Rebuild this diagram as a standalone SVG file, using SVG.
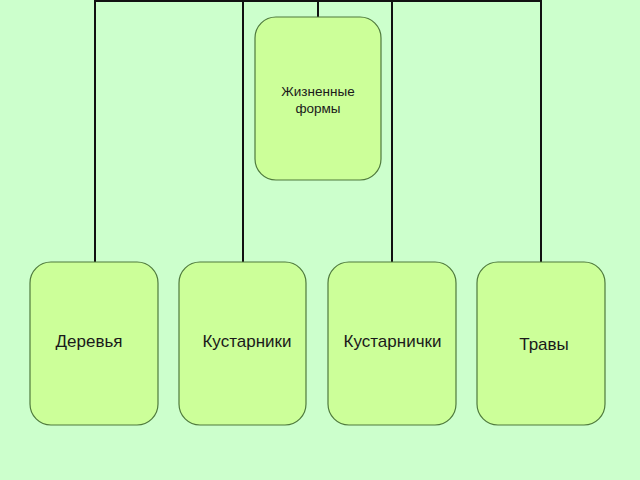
<svg xmlns="http://www.w3.org/2000/svg" width="640" height="480" viewBox="0 0 640 480">
<style>
.node{fill:#ccff99;stroke:#4f7a3c;stroke-width:1.2}
.t{font-family:"Liberation Sans",Arial,sans-serif;fill:#1a1a1a;text-anchor:middle}
.c{stroke:#111;stroke-width:2;fill:none}
</style>
<rect width="640" height="480" fill="#ccffcc"/>
<g id="connectors">
<path class="c" d="M95,1 H541 M95,0 V262 M243,0 V262 M392,0 V262 M541,0 V262 M318,0 V17"/>
</g>
<g id="root">
<rect class="node" x="255" y="17" width="126" height="163" rx="21"/>
<text class="t" x="318" y="96" font-size="13.5">Жизненные</text>
<text class="t" x="318" y="113" font-size="13.5">формы</text>
</g>
<g id="n1">
<rect class="node" x="30" y="262" width="128" height="163" rx="21"/>
<text class="t" x="89" y="347" font-size="17">Деревья</text>
</g>
<g id="n2">
<rect class="node" x="179" y="262" width="127" height="163" rx="21"/>
<text class="t" x="247" y="347" font-size="17">Кустарники</text>
</g>
<g id="n3">
<rect class="node" x="328" y="262" width="128" height="163" rx="21"/>
<text class="t" x="392.5" y="347" font-size="17">Кустарнички</text>
</g>
<g id="n4">
<rect class="node" x="477" y="262" width="128" height="163" rx="21"/>
<text class="t" x="544" y="350" font-size="17">Травы</text>
</g>
</svg>
